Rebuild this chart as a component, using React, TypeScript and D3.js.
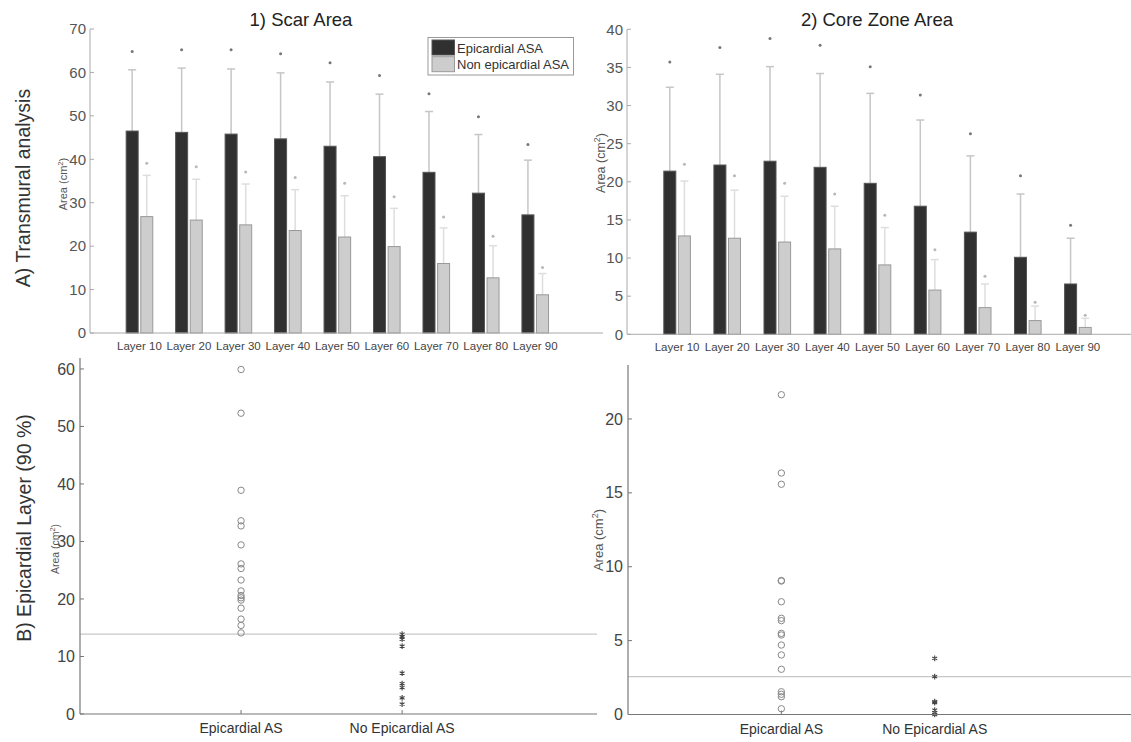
import React from "react";
import * as d3 from "d3";

// categories
const layers = ["Layer 10", "Layer 20", "Layer 30", "Layer 40", "Layer 50", "Layer 60", "Layer 70", "Layer 80", "Layer 90"];

// 1) Scar area (cm2): bar height, whisker top, outlier mark
const scarEpi = [46.5, 46.2, 45.8, 44.7, 43.0, 40.6, 37.0, 32.2, 27.2];
const scarEpiErr = [60.6, 61.0, 60.8, 59.9, 57.8, 55.0, 51.0, 45.7, 39.8];
const scarEpiOut = [64.8, 65.2, 65.2, 64.3, 62.2, 59.3, 55.1, 49.8, 43.4];
const scarNon = [26.8, 26.0, 24.9, 23.6, 22.1, 19.9, 16.0, 12.7, 8.8];
const scarNonErr = [36.3, 35.4, 34.3, 33.0, 31.6, 28.7, 24.2, 20.1, 13.7];
const scarNonOut = [39.1, 38.3, 37.1, 35.8, 34.5, 31.4, 26.7, 22.3, 15.1];

// 2) Core zone area (cm2)
const coreEpi = [21.4, 22.2, 22.7, 21.9, 19.8, 16.8, 13.4, 10.1, 6.6];
const coreEpiErr = [32.4, 34.1, 35.1, 34.2, 31.6, 28.1, 23.4, 18.4, 12.6];
const coreEpiOut = [35.7, 37.6, 38.8, 37.9, 35.1, 31.4, 26.3, 20.8, 14.3];
const coreNon = [12.9, 12.6, 12.1, 11.2, 9.1, 5.8, 3.5, 1.8, 0.9];
const coreNonErr = [20.1, 18.9, 18.1, 16.8, 14.0, 9.8, 6.6, 3.7, 2.1];
const coreNonOut = [22.3, 20.8, 19.8, 18.4, 15.6, 11.1, 7.6, 4.2, 2.5];

// B) epicardial layer 90% scatter
const groups = ["Epicardial AS", "No Epicardial AS"];
const scarEpiAS = [59.9, 52.3, 38.9, 33.6, 32.7, 29.4, 26.1, 25.3, 23.3, 21.4, 20.6, 20.2, 19.8, 18.4, 16.5, 15.4, 14.1];
const scarNoEpiAS = [13.9, 13.4, 13.0, 11.8, 7.1, 5.3, 4.6, 2.8, 1.7];
const scarCutoff = 13.9;
const coreEpiAS = [21.64, 16.34, 15.58, 9.07, 9.03, 7.63, 6.51, 6.35, 5.49, 5.38, 4.7, 4.03, 3.06, 1.54, 1.37, 1.2, 0.39];
const coreNoEpiAS = [3.8, 2.56, 0.87, 0.8, 0.3, 0.12, 0.0];
const coreCutoff = 2.56;

const barTicksScar = [0, 10, 20, 30, 40, 50, 60, 70];
const barTicksCore = [0, 5, 10, 15, 20, 25, 30, 35, 40];
const scatTicksScar = [0, 10, 20, 30, 40, 50, 60];
const scatTicksCore = [0, 5, 10, 15, 20];

const FONT = "'Liberation Sans', Arial, Helvetica, sans-serif";

type BarProps = {
  x0: number; x1: number; xMax: number; yTop: number; yBot: number; yMax: number; ticks: number[];
  epi: number[]; epiErr: number[]; epiOut: number[]; non: number[]; nonErr: number[]; nonOut: number[];
};

const BarPanel = (p: BarProps) => {
  const x = d3.scaleLinear().domain([0, p.xMax]).range([p.x0, p.x1]);
  const y = d3.scaleLinear().domain([0, p.yMax]).range([p.yBot, p.yTop]);
  const bw = 12;
  const off = 7.3;
  const series = [
    { v: p.epi, err: p.epiErr, out: p.epiOut, dx: -off, fill: "#303030", stroke: "#555", wc: "#c6c6c6", oc: "#777" },
    { v: p.non, err: p.nonErr, out: p.nonOut, dx: off, fill: "#cdcdcd", stroke: "#999", wc: "#dedede", oc: "#b8b8b8" },
  ];
  return (
    <g fontFamily={FONT}>
      {series.map((s, si) => (
        <g key={si}>
          {s.v.map((v, i) => {
            const cx = x(i + 1) + s.dx;
            return (
              <g key={i}>
                <line x1={cx} x2={cx} y1={y(v)} y2={y(s.err[i])} stroke={s.wc} strokeWidth={1.5} />
                <line x1={cx - 4} x2={cx + 4} y1={y(s.err[i])} y2={y(s.err[i])} stroke={s.wc} strokeWidth={1.5} />
                <circle cx={cx} cy={y(s.out[i])} r={1.5} fill={s.oc} />
                <rect x={cx - bw / 2} y={y(v)} width={bw} height={y(0) - y(v)} fill={s.fill} stroke={s.stroke} strokeWidth={1} />
              </g>
            );
          })}
        </g>
      ))}
      <line x1={p.x0} x2={p.x0} y1={p.yTop} y2={p.yBot} stroke="#aaa" />
      <line x1={p.x0} x2={p.x1} y1={p.yBot} y2={p.yBot} stroke="#aaa" />
      {p.ticks.map((t) => (
        <g key={t}>
          <line x1={p.x0} x2={p.x0 + 4} y1={y(t)} y2={y(t)} stroke="#aaa" />
          <text x={p.x0 - 4} y={y(t)} dy="0.35em" textAnchor="end" fontSize={15} fill="#555">{t}</text>
        </g>
      ))}
      {layers.map((l, i) => (
        <text key={l} x={x(i + 1)} y={p.yBot + 17} textAnchor="middle" fontSize={11.5} fill="#444">{l}</text>
      ))}
    </g>
  );
};

type ScatProps = {
  x0: number; x1: number; xMax: number; yTop: number; yBot: number; yMax: number; ticks: number[];
  a: number[]; b: number[]; cutoff: number; axisColor: string;
};

const ScatterPanel = (p: ScatProps) => {
  const x = d3.scaleLinear().domain([0, p.xMax]).range([p.x0, p.x1]);
  const y = d3.scaleLinear().domain([0, p.yMax]).range([p.yBot, p.yTop]);
  const star = d3.symbol().type(d3.symbolAsterisk).size(22)();
  return (
    <g fontFamily={FONT}>
      <line x1={p.x0} x2={p.x1} y1={y(p.cutoff)} y2={y(p.cutoff)} stroke="#c8c8c8" strokeWidth={1.2} />
      {p.a.map((v, i) => (
        <circle key={"a" + i} cx={x(1)} cy={y(v)} r={3.2} fill="none" stroke="#888" strokeWidth={1} />
      ))}
      {p.b.map((v, i) => (
        <path key={"b" + i} d={star || ""} transform={`translate(${x(2)},${y(v)})`} stroke="#444" strokeWidth={1.1} fill="none" />
      ))}
      <line x1={p.x0} x2={p.x0} y1={p.yTop} y2={p.yBot} stroke={p.axisColor} strokeWidth={1.2} />
      <line x1={p.x0} x2={p.x1} y1={p.yBot} y2={p.yBot} stroke={p.axisColor} strokeWidth={1.2} />
      {p.ticks.map((t) => (
        <g key={t}>
          <line x1={p.x0} x2={p.x0 + 4} y1={y(t)} y2={y(t)} stroke={p.axisColor} />
          <text x={p.x0 - 5} y={y(t)} dy="0.35em" textAnchor="end" fontSize={16} fill="#444">{t}</text>
        </g>
      ))}
      {groups.map((g, i) => (
        <g key={g}>
          <line x1={x(i + 1)} x2={x(i + 1)} y1={p.yBot} y2={p.yBot - 4} stroke={p.axisColor} />
          <text x={x(i + 1)} y={p.yBot + 19} textAnchor="middle" fontSize={14} fill="#333">{g}</text>
        </g>
      ))}
    </g>
  );
};

const AreaLabel = ({ x, y, size }: { x: number; y: number; size: number }) => (
  <text transform={`translate(${x},${y}) rotate(-90)`} textAnchor="middle" fontSize={size} fill="#555" fontFamily={FONT}>
    Area (cm<tspan dy={-size * 0.4} fontSize={size * 0.7}>2</tspan><tspan dy={size * 0.4}>)</tspan>
  </text>
);

const App = () => {
  return (
    <svg width={1131} height={742} style={{ position: "absolute", left: 0, top: 0, background: "#fff" }}>
      <rect width={1131} height={742} fill="#fff" />
      <BarPanel x0={90} x1={603} xMax={10.37} yTop={29} yBot={333} yMax={70} ticks={barTicksScar}
        epi={scarEpi} epiErr={scarEpiErr} epiOut={scarEpiOut} non={scarNon} nonErr={scarNonErr} nonOut={scarNonOut} />
      <BarPanel x0={627} x1={1131} xMax={10.06} yTop={29.3} yBot={334.3} yMax={40} ticks={barTicksCore}
        epi={coreEpi} epiErr={coreEpiErr} epiOut={coreEpiOut} non={coreNon} nonErr={coreNonErr} nonOut={coreNonOut} />
      <ScatterPanel x0={80} x1={597} xMax={3.21} yTop={358} yBot={714} yMax={61.9} ticks={scatTicksScar}
        a={scarEpiAS} b={scarNoEpiAS} cutoff={scarCutoff} axisColor="#777" />
      <ScatterPanel x0={628} x1={1131} xMax={3.28} yTop={365} yBot={714.5} yMax={23.65} ticks={scatTicksCore}
        a={coreEpiAS} b={coreNoEpiAS} cutoff={coreCutoff} axisColor="#777" />

      {/* legend */}
      <g fontFamily={FONT}>
        <rect x={428} y={37.5} width={145.5} height={37.5} fill="#fff" stroke="#999" />
        <rect x={432} y={40} width={22.5} height={15} fill="#303030" stroke="#555" />
        <rect x={432} y={56.7} width={22.5} height={15} fill="#cdcdcd" stroke="#999" />
        <text x={457} y={52.5} fontSize={13} fill="#333">Epicardial ASA</text>
        <text x={457} y={69} fontSize={13} fill="#333">Non epicardial ASA</text>
      </g>

      {/* titles */}
      <text x={301} y={26} textAnchor="middle" fontSize={18.5} fill="#222" fontFamily={FONT}>1) Scar Area</text>
      <text x={877} y={26} textAnchor="middle" fontSize={18.5} fill="#222" fontFamily={FONT}>2) Core Zone Area</text>

      <text transform="translate(30,188) rotate(-90)" textAnchor="middle" fontSize={19.5} fill="#333" fontFamily={FONT}>A) Transmural analysis</text>
      <text transform="translate(31,528) rotate(-90)" textAnchor="middle" fontSize={19.5} fill="#333" fontFamily={FONT}>B) Epicardial Layer (90 %)</text>

      <AreaLabel x={67} y={184} size={11} />
      <AreaLabel x={605} y={163} size={12.5} />
      <AreaLabel x={59} y={549} size={10.5} />
      <AreaLabel x={603} y={540} size={13} />
    </svg>
  );
};

export default App;
